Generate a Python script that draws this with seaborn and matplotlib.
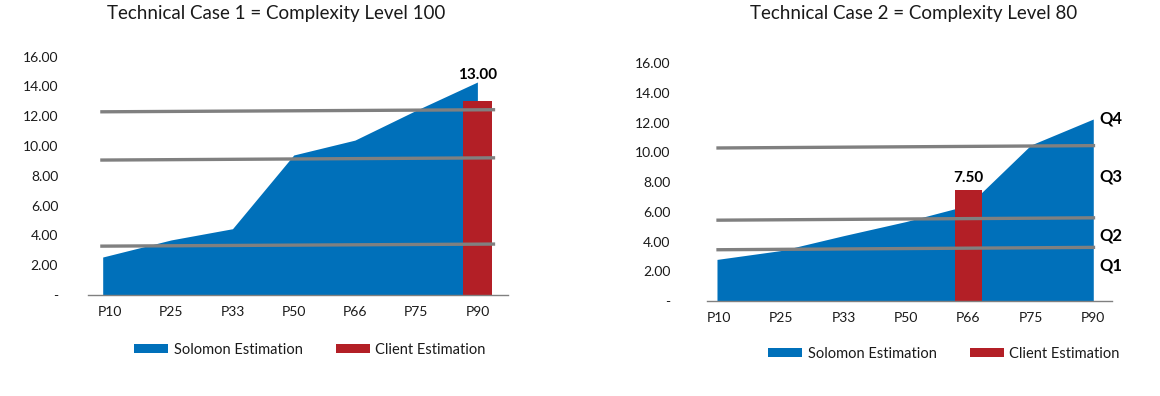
import numpy as np
import pandas as pd
import matplotlib
matplotlib.use("Agg")
import matplotlib.pyplot as plt
from matplotlib.patches import Patch
import seaborn as sns

# ---------------- data ----------------
categories = ["P10", "P25", "P33", "P50", "P66", "P75", "P90"]

case1_title = "Technical Case 1 = Complexity Level 100"
case1_solomon = [2.55, 3.7, 4.45, 9.4, 10.4, 12.4, 14.3]
case1_client_cat = "P90"
case1_client_val = 13.00
case1_quartile_start = [3.28, 9.06, 12.3]
case1_quartile_end = [3.42, 9.21, 12.44]

case2_title = "Technical Case 2 = Complexity Level 80"
case2_solomon = [2.8, 3.4, 4.4, 5.35, 6.45, 10.5, 12.25]
case2_client_cat = "P66"
case2_client_val = 7.50
case2_quartile_start = [3.45, 5.44, 10.3]
case2_quartile_end = [3.61, 5.6, 10.46]
quartile_labels = ["Q1", "Q2", "Q3", "Q4"]
quartile_label_y = [2.4, 4.4, 8.4, 12.3]

yticks = [0, 2, 4, 6, 8, 10, 12, 14, 16]
legend_labels = ["Solomon Estimation", "Client Estimation"]

# ---------------- style ----------------
sns.set_theme(style="white")
plt.rcParams["font.family"] = ["Lato", "DejaVu Sans"]
BLUE = "#0070BA"
RED = "#B31F26"
GRAY = "#808080"
TXT = "#1a1a1a"

fig = plt.figure(figsize=(11.6, 3.96), dpi=100)
W, H = 1160, 396

def make_ax(left_px, right_px, zero_px, top_px):
    return fig.add_axes([left_px / W, 1 - zero_px / H,
                         (right_px - left_px) / W, (zero_px - top_px) / H])

ax1 = make_ax(88, 508, 295, 56.7)
ax2 = make_ax(707, 1112, 301, 63.3)

def draw(ax, solomon, client_cat, client_val, q_start, q_end, xlim,
         qx, bar_w, label_y, ypad, area_x0):
    x = np.arange(len(categories), dtype=float)
    x[0] = area_x0
    ax.fill_between(x, 0, solomon, color=BLUE, lw=0, zorder=1)
    df = pd.DataFrame({"cat": categories,
                       "val": [client_val if c == client_cat else np.nan
                               for c in categories]})
    sns.barplot(data=df, x="cat", y="val", order=categories, color=RED,
                saturation=1, width=bar_w, ax=ax, zorder=3, errorbar=None,
                linewidth=0, edgecolor="none")
    for s, e in zip(q_start, q_end):
        ax.plot(qx, [s, e], color=GRAY, lw=2.4, zorder=4,
                solid_capstyle="butt")
    ci = categories.index(client_cat)
    ax.text(ci, label_y, f"{client_val:.2f}", ha="center", va="center",
            fontsize=11, fontweight="bold", color="black", zorder=5)
    ax.set_xlim(*xlim)
    ax.set_ylim(0, 16)
    ax.set_yticks(yticks)
    ax.set_yticklabels([f"{v:.2f}" if v else "-" for v in yticks])
    ax.set_xlabel("")
    ax.set_ylabel("")
    for sp in ["top", "right", "left"]:
        ax.spines[sp].set_visible(False)
    ax.spines["bottom"].set_color(GRAY)
    ax.spines["bottom"].set_linewidth(1.0)
    ax.spines["bottom"].set_zorder(6)
    ax.tick_params(axis="y", length=0, pad=ypad, labelsize=10, labelcolor=TXT)
    ax.tick_params(axis="x", length=0, pad=8, labelsize=10, labelcolor=TXT)
    ax.set_facecolor("none")

draw(ax1, case1_solomon, case1_client_cat, case1_client_val,
     case1_quartile_start, case1_quartile_end, (-0.36, 6.5),
     [-0.16, 6.29], 0.47, 14.75, 21.5, -0.12)
draw(ax2, case2_solomon, case2_client_cat, case2_client_val,
     case2_quartile_start, case2_quartile_end, (-0.19, 6.3),
     [-0.04, 6.03], 0.42, 8.3, 26.5, -0.03)

for lab, yv in zip(quartile_labels, quartile_label_y):
    ax2.text(6.1, yv, lab, ha="left", va="center", fontsize=12,
             fontweight="bold", color="black", clip_on=False)

fig.text(276 / W, 1 - 14 / H, case1_title, ha="center", va="center",
         fontsize=13.5, color=TXT)
fig.text(914 / W, 1 - 14 / H, case2_title, ha="center", va="center",
         fontsize=13.5, color=TXT)

handles = [Patch(facecolor=BLUE, edgecolor="none"),
           Patch(facecolor=RED, edgecolor="none")]
for cx, cy in [(310, 350), (944, 354)]:
    fig.legend(handles, legend_labels, loc="center",
               bbox_to_anchor=(cx / W, 1 - cy / H), ncol=2, frameon=False,
               fontsize=10.5, handlelength=2.3, handleheight=0.55,
               handletextpad=0.4, columnspacing=2.3, labelcolor=TXT)

fig.savefig("out.png", dpi=100)
